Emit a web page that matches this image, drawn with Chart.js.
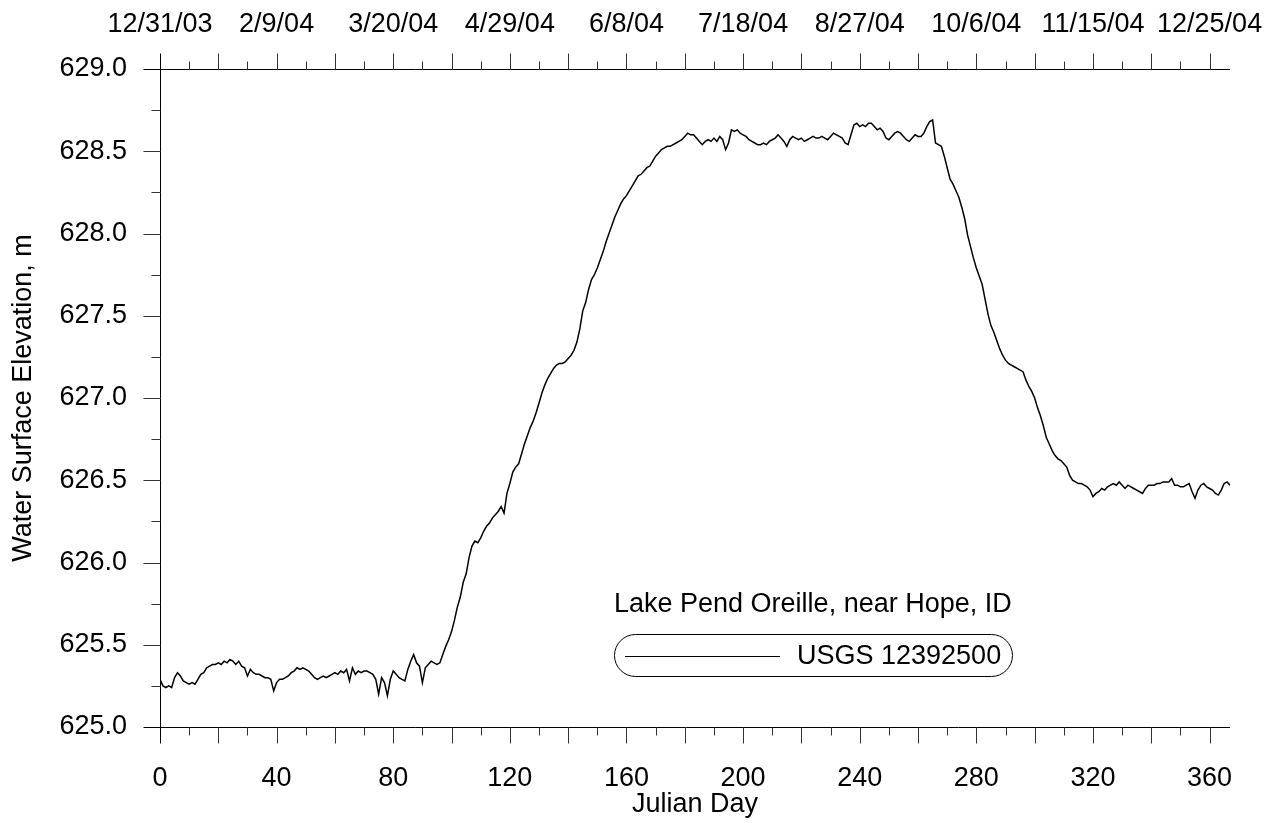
<!DOCTYPE html>
<html><head><meta charset="utf-8">
<script src="https://cdn.jsdelivr.net/npm/chart.js@4.4.0/dist/chart.umd.min.js"></script>
<style>html,body{margin:0;padding:0;background:#fff}#wrap{width:1275px;height:823px}canvas{display:block}</style>
</head><body><div id="wrap"><canvas id="c" width="1275" height="823"></canvas></div>
<script>
const FONT = "'Liberation Sans', Arial, Helvetica, sans-serif";
const FS = 27;

const julianDay = [
0,1,2,3,4,5,6,7,8,9,10,11,12,13,14,15,16,17,18,19,20,21,22,23,24,25,26,27,28,29,
30,31,32,33,34,35,36,37,38,39,40,41,42,43,44,45,46,47,48,49,50,51,52,53,54,55,56,57,58,59,
60,61,62,63,64,65,66,67,68,69,70,71,72,73,74,75,76,77,78,79,80,81,82,83,84,85,86,87,88,89,
90,91,92,93,94,95,96,97,98,99,100,101,102,103,104,105,106,107,108,109,110,111,112,113,114,115,116,117,118,119,
120,121,122,123,124,125,126,127,128,129,130,131,132,133,134,135,136,137,138,139,140,141,142,143,144,145,146,147,148,149,
150,151,152,153,154,155,156,157,158,159,160,161,162,163,164,165,166,167,168,169,170,171,172,173,174,175,176,177,178,179,
180,181,182,183,184,185,186,187,188,189,190,191,192,193,194,195,196,197,198,199,200,201,202,203,204,205,206,207,208,209,
210,211,212,213,214,215,216,217,218,219,220,221,222,223,224,225,226,227,228,229,230,231,232,233,234,235,236,237,238,239,
240,241,242,243,244,245,246,247,248,249,250,251,252,253,254,255,256,257,258,259,260,261,262,263,264,265,266,267,268,269,
270,271,272,273,274,275,276,277,278,279,280,281,282,283,284,285,286,287,288,289,290,291,292,293,294,295,296,297,298,299,
300,301,302,303,304,305,306,307,308,309,310,311,312,313,314,315,316,317,318,319,320,321,322,323,324,325,326,327,328,329,
330,331,332,333,334,335,336,337,338,339,340,341,342,343,344,345,346,347,348,349,350,351,352,353,354,355,356,357,358,359,
360,361,362,363,364,365,366,367];

const elevation = [
625.29,625.25,625.24,625.25,625.24,625.30,625.33,625.31,625.28,625.27,
625.26,625.27,625.26,625.29,625.32,625.33,625.36,625.37,625.38,625.38,
625.39,625.38,625.40,625.39,625.41,625.40,625.38,625.40,625.37,625.36,
625.31,625.35,625.33,625.32,625.32,625.31,625.30,625.30,625.29,625.22,
625.27,625.29,625.29,625.30,625.31,625.33,625.34,625.36,625.35,625.36,
625.35,625.34,625.32,625.30,625.29,625.30,625.31,625.30,625.31,625.32,
625.33,625.32,625.34,625.33,625.35,625.28,625.36,625.32,625.34,625.33,
625.34,625.34,625.33,625.32,625.29,625.20,625.30,625.27,625.19,625.29,
625.34,625.32,625.30,625.29,625.28,625.35,625.40,625.44,625.39,625.37,
625.27,625.36,625.38,625.40,625.39,625.38,625.39,625.44,625.49,625.53,
625.58,625.65,625.73,625.79,625.88,625.93,626.03,626.10,626.13,626.12,
626.15,626.19,626.22,626.24,626.27,626.29,626.31,626.34,626.30,626.42,
626.48,626.55,626.58,626.60,626.66,626.72,626.77,626.82,626.86,626.91,
626.97,627.03,627.08,627.12,627.15,627.18,627.20,627.21,627.21,627.22,
627.24,627.26,627.29,627.34,627.42,627.53,627.58,627.66,627.72,627.75,
627.79,627.84,627.89,627.95,628.00,628.05,628.10,628.14,628.18,628.21,
628.23,628.26,628.29,628.32,628.35,628.36,628.38,628.40,628.41,628.44,
628.47,628.49,628.51,628.52,628.53,628.53,628.54,628.55,628.56,628.57,
628.59,628.61,628.60,628.60,628.58,628.56,628.54,628.56,628.57,628.56,
628.58,628.56,628.59,628.57,628.51,628.55,628.63,628.62,628.63,628.61,
628.60,628.59,628.57,628.56,628.55,628.54,628.54,628.55,628.54,628.56,
628.57,628.58,628.60,628.58,628.56,628.53,628.57,628.59,628.58,628.57,
628.58,628.56,628.57,628.58,628.59,628.58,628.58,628.59,628.58,628.57,
628.59,628.61,628.60,628.59,628.58,628.55,628.54,628.60,628.66,628.67,
628.65,628.66,628.65,628.67,628.67,628.65,628.63,628.64,628.62,628.58,
628.57,628.59,628.61,628.62,628.61,628.59,628.57,628.56,628.58,628.60,
628.59,628.59,628.61,628.65,628.68,628.69,628.55,628.54,628.53,628.47,
628.40,628.33,628.30,628.26,628.22,628.16,628.09,627.99,627.92,627.85,
627.79,627.74,627.69,627.60,627.51,627.44,627.40,627.35,627.30,627.26,
627.23,627.21,627.20,627.19,627.18,627.17,627.16,627.11,627.07,627.04,
627.00,626.94,626.89,626.83,626.76,626.72,626.68,626.65,626.63,626.62,
626.60,626.58,626.53,626.50,626.49,626.48,626.48,626.47,626.46,626.44,
626.40,626.42,626.43,626.45,626.44,626.46,626.47,626.48,626.47,626.49,
626.47,626.45,626.47,626.46,626.45,626.44,626.43,626.42,626.45,626.47,
626.47,626.47,626.48,626.48,626.49,626.49,626.49,626.51,626.47,626.47,
626.46,626.46,626.47,626.48,626.43,626.39,626.44,626.47,626.48,626.46,
626.45,626.44,626.42,626.41,626.44,626.48,626.49,626.47];

const bottomTickDays = [0,40,80,120,160,200,240,280,320,360];
const topTickDays = [0,40,80,120,160,200,240,280,320,360];
const topTickLabels = ['12/31/03','2/9/04','3/20/04','4/29/04','6/8/04','7/18/04','8/27/04','10/6/04','11/15/04','12/25/04'];
const seriesName = 'USGS 12392500';
const legendTitle = 'Lake Pend Oreille, near Hope, ID';
const xTitle = 'Julian Day';
const yTitle = 'Water Surface Elevation, m';

const points = julianDay.map((d, i) => ({x: d, y: elevation[i]}));

const axesPlugin = {
  id: 'axesTicks',
  afterDraw(chart) {
    const {ctx, chartArea: a, scales: {x, y}} = chart;
    ctx.save();
    const L = Math.round(a.left) + 0.5, R = Math.round(a.right);
    const T = Math.round(a.top) + 0.5, B = Math.round(a.bottom) + 0.5;
    ctx.strokeStyle = '#000'; ctx.lineWidth = 1;
    ctx.beginPath();
    ctx.moveTo(L, T - 16); ctx.lineTo(L, B + 16);
    ctx.moveTo(L - 17, T); ctx.lineTo(R, T);
    ctx.moveTo(L - 17, B); ctx.lineTo(R, B);
    ctx.stroke();
    ctx.strokeStyle = '#333';
    ctx.beginPath();
    for (let d = 10; d <= 360; d += 10) {
      const px = Math.round(x.getPixelForValue(d)) + 0.5;
      const len = d % 20 === 0 ? 16 : 8;
      ctx.moveTo(px, B); ctx.lineTo(px, B + len);
      ctx.moveTo(px, T); ctx.lineTo(px, T - len);
    }
    for (let k = 1; k < 16; k++) {
      const v = 625 + k * 0.25;
      const py = Math.round(y.getPixelForValue(v)) + 0.5;
      const len = k % 2 === 0 ? 17 : 9;
      ctx.moveTo(L, py); ctx.lineTo(L - len, py);
    }
    ctx.stroke();

    // legend
    ctx.fillStyle = '#000';
    ctx.font = FS + 'px ' + FONT;
    ctx.textAlign = 'left';
    ctx.textBaseline = 'alphabetic';
    ctx.fillText(legendTitle, 614, 612);
    const bx = 614.5, by = 634.5, bw = 398, bh = 42, r = 21;
    ctx.strokeStyle = '#000'; ctx.lineWidth = 1;
    ctx.beginPath();
    ctx.moveTo(bx + r, by);
    ctx.lineTo(bx + bw - r, by);
    ctx.arc(bx + bw - r, by + r, r, -Math.PI / 2, Math.PI / 2);
    ctx.lineTo(bx + r, by + bh);
    ctx.arc(bx + r, by + r, r, Math.PI / 2, Math.PI * 1.5);
    ctx.closePath();
    ctx.stroke();
    ctx.beginPath();
    ctx.moveTo(625, 656.5); ctx.lineTo(780, 656.5);
    ctx.stroke();
    ctx.fillText(seriesName, 797, 664);
    ctx.restore();
  }
};

const noPad = s => { s.paddingLeft = 0; s.paddingRight = 0; s.paddingTop = 0; s.paddingBottom = 0; };

new Chart(document.getElementById('c'), {
  type: 'line',
  data: {
    datasets: [{
      label: seriesName,
      data: points,
      borderColor: '#000',
      borderWidth: 1.5,
      pointRadius: 0,
      tension: 0,
      fill: false
    }]
  },
  options: {
    responsive: false,
    animation: false,
    devicePixelRatio: 1,
    layout: {padding: {left: 0, right: 45, top: 0, bottom: 0}},
    plugins: {legend: {display: false}, tooltip: {enabled: false}, title: {display: false}},
    scales: {
      x: {
        type: 'linear', position: 'bottom', min: 0, max: 367,
        grid: {display: false, drawTicks: false, tickLength: 0}, border: {display: false},
        afterBuildTicks: s => { s.ticks = bottomTickDays.map(v => ({value: v})); },
        afterFit: s => { s.height = 96; noPad(s); },
        ticks: {color: '#000', font: {family: FONT, size: FS}, padding: 35, maxRotation: 0, autoSkip: false,
          callback: v => String(v)},
        title: {display: true, text: xTitle, color: '#000', font: {family: FONT, size: FS}, padding: {top: 0, bottom: 2}}
      },
      x2: {
        type: 'linear', position: 'top', min: 0, max: 367,
        grid: {display: false, drawTicks: false, tickLength: 0}, border: {display: false},
        afterBuildTicks: s => { s.ticks = topTickDays.map(v => ({value: v})); },
        afterFit: s => { s.height = 69; noPad(s); },
        ticks: {color: '#000', font: {family: FONT, size: FS}, padding: 28, maxRotation: 0, autoSkip: false,
          callback: v => { const i = topTickDays.indexOf(v); return i >= 0 ? topTickLabels[i] : ''; }}
      },
      y: {
        type: 'linear', position: 'left', min: 625, max: 629,
        grid: {display: false, drawTicks: false, tickLength: 0}, border: {display: false},
        afterFit: s => { s.width = 160; noPad(s); },
        ticks: {color: '#000', font: {family: FONT, size: FS}, padding: 33, stepSize: 0.5,
          callback: v => Number(v).toFixed(1)},
        title: {display: true, text: yTitle, color: '#000', font: {family: FONT, size: FS}, padding: {top: 7, bottom: 0}}
      }
    }
  },
  plugins: [axesPlugin]
});
</script>
</body></html>
